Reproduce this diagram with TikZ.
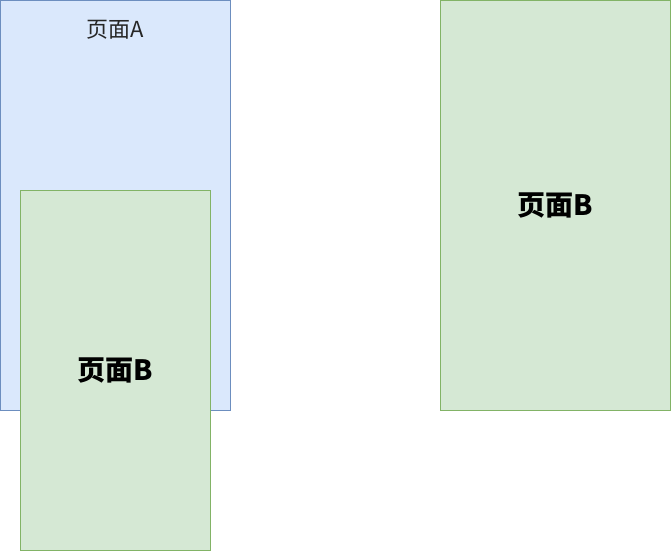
\documentclass[tikz,border=0pt]{standalone}
\usepackage{fontspec}
\newfontfamily\cjk{Noto Sans CJK SC}
\definecolor{bluefill}{HTML}{DAE8FC}
\definecolor{bluedraw}{HTML}{6C8EBF}
\definecolor{greenfill}{HTML}{D5E8D4}
\definecolor{greendraw}{HTML}{82B366}
\begin{document}
\begin{tikzpicture}[x=1pt,y=-1pt,
  pageA/.style={rectangle,fill=bluefill,draw=bluedraw,line width=0.8pt,inner sep=0pt},
  pageB/.style={rectangle,fill=greenfill,draw=greendraw,line width=0.8pt,inner sep=0pt,font=\cjk\bfseries\fontsize{28}{32}\selectfont}]
  \useasboundingbox (0,0) rectangle (671,551);
  \node[pageA,minimum width=230pt,minimum height=410pt] (a) at (115,205) {};
  \node[font=\cjk\fontsize{22}{26}\selectfont,text=black!85] (alabel) at (115.5,30) {页面A};
  \node[pageB,minimum width=190pt,minimum height=360pt] (b1) at (115,370) {页面B};
  \node[pageB,minimum width=230pt,minimum height=410pt] (b2) at (555,205) {页面B};
\end{tikzpicture}
\end{document}
